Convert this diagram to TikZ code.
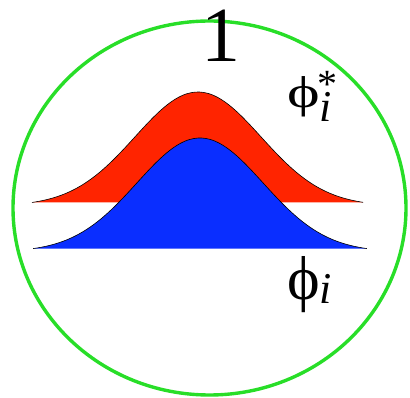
\documentclass[tikz,border=0pt]{standalone}
\usepackage{fontspec}
\setmainfont{Liberation Serif}
\definecolor{ringgreen}{RGB}{40,222,40}
\definecolor{humpred}{RGB}{255,36,0}
\definecolor{humpblue}{RGB}{10,46,255}
\tikzset{
  hump/.style={draw=black, line width=0.6pt, line join=round},
  lbl/.style={inner sep=0pt, anchor=base west},
}
\newcommand{\bigphi}{{\fontsize{62}{62}\selectfont ϕ}}
\newcommand{\subi}{{\fontsize{44}{44}\selectfont\itshape i}}
\begin{document}
\begin{tikzpicture}[x=1pt,y=-1pt]
\useasboundingbox (0,0) rectangle (410,398);
% ring
\draw[ringgreen, line width=3.4pt] (209.5,208) ellipse [x radius=196.5, y radius=187];
% red hump
\fill[humpred] plot[smooth, domain=-2.635:2.62, samples=80] ({198+63*\x},{206-114*exp(-\x*\x/2)}) -- cycle;
\draw[hump] plot[smooth, domain=-2.635:2.62, samples=80] ({198+63*\x},{206-114*exp(-\x*\x/2)});
% blue hump
\fill[humpblue] plot[smooth, domain=-2.65:2.65, samples=80] ({200+63*\x},{252-114*exp(-\x*\x/2)}) -- cycle;
\draw[hump] plot[smooth, domain=-2.65:2.65, samples=80] ({200+63*\x},{252-114*exp(-\x*\x/2)});
% labels
\node[inner sep=0pt, font=\fontsize{78}{78}\selectfont] (one) at (221,36) {1};
\node[lbl] (phistar) at (287,108) {\scalebox{1}[0.72]{\bigphi}\raisebox{-14pt}{\subi}\hspace{-15pt}\raisebox{10pt}{\fontsize{40}{40}\selectfont *}};
\node[lbl] (phi) at (287,300) {\bigphi\raisebox{-4pt}{\subi}};
\end{tikzpicture}
\end{document}
